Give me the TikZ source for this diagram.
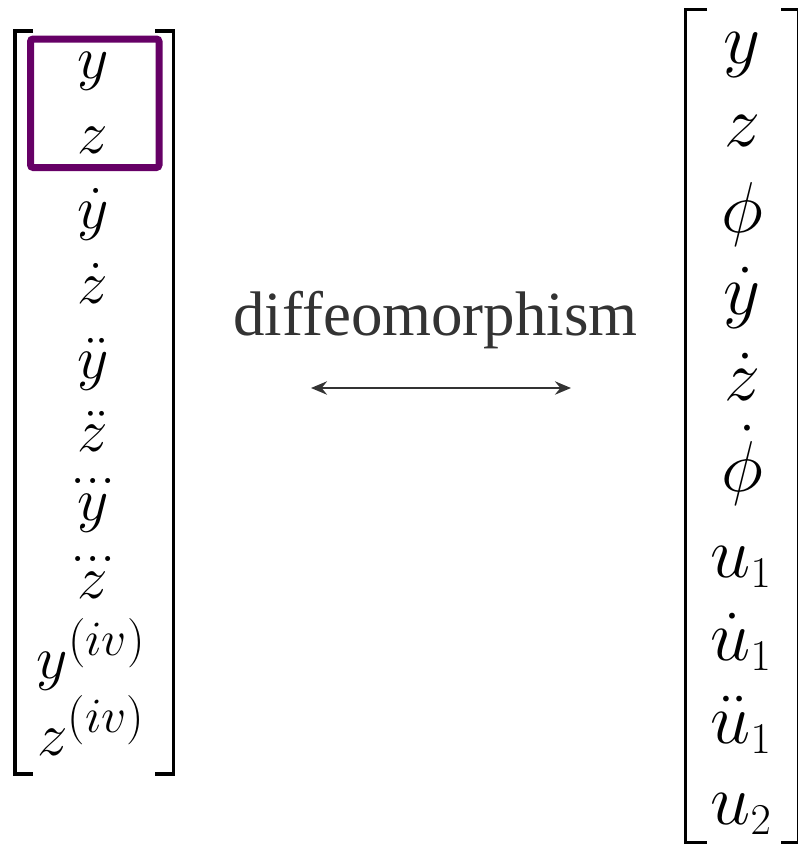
\RequirePackage{fix-cm}
\documentclass[tikz,border=0pt]{standalone}
\usepackage{amsmath}
\usepackage[no-math]{fontspec}
\newfontfamily\labelfont{Liberation Serif}
\usetikzlibrary{arrows.meta}
\definecolor{boxpurple}{RGB}{102,0,102}
\definecolor{labelgrey}{RGB}{51,51,51}
\DeclareMathSizes{45.75}{45.75}{37}{28}
\DeclareMathSizes{54}{54}{33}{24}
% three dots centred over a letter
\newcommand{\tripledot}[1]{\mathord{\ooalign{$#1$\cr
  \hidewidth\raisebox{0.6em}{\normalfont.\kern0pt.\kern0pt.}\hidewidth\cr}}}
\tikzset{
  leftentry/.style={anchor=base, inner sep=0pt, font=\fontsize{45.75}{55}\selectfont},
  rightentry/.style={anchor=base, inner sep=0pt, font=\fontsize{54}{65}\selectfont},
  bracket/.style={line width=2.6pt, line join=miter},
}

\begin{document}
\begin{tikzpicture}[x=0.75pt, y=0.75pt]
  \useasboundingbox (0,0) rectangle (798,-847);
  % Left column: flat outputs and derivatives
  \node[leftentry] (ly)   at (93,-78)  {$y$};
  \node[leftentry] (lz)   at (93,-153) {$z$};
  \node[leftentry] (lyd)  at (93,-228) {$\dot{y}$};
  \node[leftentry] (lzd)  at (93,-303) {$\dot{z}$};
  \node[leftentry] (lydd) at (93,-378) {$\ddot{y}$};
  \node[leftentry] (lzdd) at (93,-451) {$\ddot{z}$};
  \node[leftentry] (lyddd) at (93,-520) {$\tripledot{y}$};
  \node[leftentry] (lzddd) at (93,-598) {$\tripledot{z}$};
  \node[leftentry] (ly4)  at (91,-678) {$y^{(iv)}$};
  \node[leftentry] (lz4)  at (91,-755) {$z^{(iv)}$};
  % Left brackets
  \draw[bracket] (33,-31) -- (15,-31) -- (15,-774) -- (33,-774);
  \draw[bracket] (155,-31) -- (173.5,-31) -- (173.5,-774) -- (155,-774);
  % Highlight of the flat outputs
  \draw[boxpurple, line width=5.25pt, rounded corners=2pt]
    (30.5,-39) rectangle (159,-167.5);
  % Right column: state and inputs
  \node[rightentry] (ry)   at (742,-63)  {$y$};
  \node[rightentry] (rz)   at (742,-146) {$z$};
  \node[rightentry] (rphi) at (742,-232) {$\phi$};
  \node[rightentry] (ryd)  at (742,-314) {$\dot{y}$};
  \node[rightentry] (rzd)  at (742,-400) {$\dot{z}$};
  \node[rightentry] (rphid) at (742,-491) {$\dot{\phi}$};
  \node[rightentry] (ru)   at (741,-577) {$u_1$};
  \node[rightentry] (rud)  at (741,-660) {$\dot{u}_1$};
  \node[rightentry] (rudd) at (741,-743) {$\ddot{u}_1$};
  \node[rightentry] (ru2)  at (741,-824) {$u_2$};
  % Right brackets
  \draw[bracket] (707,-9.5) -- (685.5,-9.5) -- (685.5,-842.5) -- (707,-842.5);
  \draw[bracket] (781,-9.5) -- (799,-9.5) -- (799,-842.5) -- (781,-842.5);
  % Label and arrow
  \node[anchor=base, inner sep=0pt, text=labelgrey,
        font=\labelfont\fontsize{47.2}{56}\selectfont] (diffeo) at (435.5,-335) {diffeomorphism};
  \coordinate (arrL) at (311,-388);
  \coordinate (arrR) at (571,-388);
  \draw[labelgrey, line width=1.8pt,
        {Stealth[length=12pt, width=10pt, inset=4pt]}-{Stealth[length=12pt, width=10pt, inset=4pt]}]
    (arrL) -- (arrR);
\end{tikzpicture}
\end{document}
